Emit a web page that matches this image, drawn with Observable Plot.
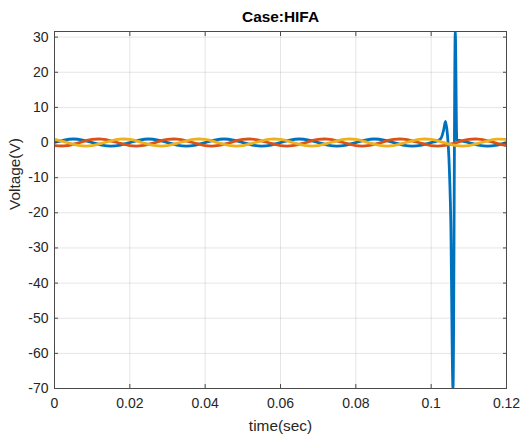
<!DOCTYPE html>
<html>
<head>
<meta charset="utf-8">
<script src="https://cdn.jsdelivr.net/npm/d3@7"></script>
<script src="https://cdn.jsdelivr.net/npm/@observablehq/plot@0.6"></script>
<style>
  body { margin: 0; background: #ffffff; }
  #chart svg { display: block; }
</style>
</head>
<body>
<div id="chart"></div>
<script>
// Sample times (s) for the steady three-phase signals
const time = [0, 0.0025, 0.005, 0.0075, 0.01, 0.0125, 0.015, 0.0175,
  0.02, 0.0225, 0.025, 0.0275, 0.03, 0.0325, 0.035, 0.0375,
  0.04, 0.0425, 0.045, 0.0475, 0.05, 0.0525, 0.055, 0.0575,
  0.06, 0.0625, 0.065, 0.0675, 0.07, 0.0725, 0.075, 0.0775,
  0.08, 0.0825, 0.085, 0.0875, 0.09, 0.0925, 0.095, 0.0975,
  0.1, 0.1025, 0.105, 0.1075, 0.11, 0.1125, 0.115, 0.1175, 0.12];

// Phase B (orange) voltage, V
const phaseB = [-0.87, -0.97, -0.5, 0.26, 0.87, 0.97, 0.5, -0.26,
  -0.87, -0.97, -0.5, 0.26, 0.87, 0.97, 0.5, -0.26,
  -0.87, -0.97, -0.5, 0.26, 0.87, 0.97, 0.5, -0.26,
  -0.87, -0.97, -0.5, 0.26, 0.87, 0.97, 0.5, -0.26,
  -0.87, -0.97, -0.5, 0.26, 0.87, 0.97, 0.5, -0.26,
  -0.87, -0.97, -0.5, 0.26, 0.87, 0.97, 0.5, -0.26, -0.87];

// Phase C (yellow) voltage, V
const phaseC = [0.87, 0.26, -0.5, -0.97, -0.87, -0.26, 0.5, 0.97,
  0.87, 0.26, -0.5, -0.97, -0.87, -0.26, 0.5, 0.97,
  0.87, 0.26, -0.5, -0.97, -0.87, -0.26, 0.5, 0.97,
  0.87, 0.26, -0.5, -0.97, -0.87, -0.26, 0.5, 0.97,
  0.87, 0.26, -0.5, -0.97, -0.87, -0.26, 0.5, 0.97,
  0.87, 0.26, -0.5, -0.97, -0.87, -0.26, 0.5, 0.97, 0.87];

// Phase A (blue, faulted) sample times (s) and voltage (V)
const timeA = [0, 0.0025, 0.005, 0.0075, 0.01, 0.0125, 0.015, 0.0175,
  0.02, 0.0225, 0.025, 0.0275, 0.03, 0.0325, 0.035, 0.0375,
  0.04, 0.0425, 0.045, 0.0475, 0.05, 0.0525, 0.055, 0.0575,
  0.06, 0.0625, 0.065, 0.0675, 0.07, 0.0725, 0.075, 0.0775,
  0.08, 0.0825, 0.085, 0.0875, 0.09, 0.0925, 0.095, 0.0975,
  0.1, 0.1015, 0.1026, 0.1033, 0.1038, 0.1043, 0.1047, 0.1052, 0.1058,
  0.1064, 0.1068, 0.1075, 0.11, 0.1125, 0.115, 0.1175, 0.12];
const phaseA = [0, 0.71, 1, 0.71, 0, -0.71, -1, -0.71,
  0, 0.71, 1, 0.71, 0, -0.71, -1, -0.71,
  0, 0.71, 1, 0.71, 0, -0.71, -1, -0.71,
  0, 0.71, 1, 0.71, 0, -0.71, -1, -0.71,
  0, 0.71, 1, 0.71, 0, -0.71, -1, -0.71,
  0, 0.45, 1.2, 3.5, 6.0, 2.5, -4, -22, -70,
  31.6, 0.8, 0.6, 0, -0.71, -1, -0.71, 0];

const xTicks = [0, 0.02, 0.04, 0.06, 0.08, 0.1, 0.12];
const yTicks = [-70, -60, -50, -40, -30, -20, -10, 0, 10, 20, 30];

const title = "Case:HIFA";
const xLabel = "time(sec)";
const yLabel = "Voltage(V)";

const rowsA = timeA.map((t, i) => ({t, v: phaseA[i]}));
const rowsB = time.map((t, i) => ({t, v: phaseB[i]}));
const rowsC = time.map((t, i) => ({t, v: phaseC[i]}));

const fmtX = d => String(+d.toFixed(2));
const fmtY = d => String(d);
const axisColor = "#4a4a4a";
const textColor = "#262626";

const chart = Plot.plot({
  width: 520,
  height: 438,
  marginLeft: 54,
  marginRight: 14,
  marginTop: 31,
  marginBottom: 50,
  style: {fontFamily: "'Liberation Sans', Arial, Helvetica, sans-serif", fontSize: "14px", background: "#ffffff", color: textColor},
  x: {domain: [0, 0.12], axis: null},
  y: {domain: [-70, 31.6], axis: null},
  marks: [
    Plot.gridX(xTicks, {stroke: "#000", strokeOpacity: 0.1}),
    Plot.gridY(yTicks, {stroke: "#000", strokeOpacity: 0.1}),
    Plot.line(rowsA, {x: "t", y: "v", stroke: "#0072BD", strokeWidth: 2.8, curve: "monotone-x", clip: true}),
    Plot.line(rowsB, {x: "t", y: "v", stroke: "#D95319", strokeWidth: 2.8, curve: "natural", clip: true}),
    Plot.line(rowsC, {x: "t", y: "v", stroke: "#EDB120", strokeWidth: 2.8, curve: "natural", clip: true}),
    Plot.axisX(xTicks, {anchor: "bottom", tickSize: 0, tickPadding: 10, tickFormat: fmtX, label: null, fill: textColor, fontSize: 14}),
    Plot.axisY(yTicks, {anchor: "left", tickSize: 0, tickPadding: 6, tickFormat: fmtY, label: null, fill: textColor, fontSize: 14}),
    Plot.axisX(xTicks, {anchor: "bottom", tickSize: -4, tickFormat: () => "", label: null, stroke: axisColor}),
    Plot.axisX(xTicks, {anchor: "top", tickSize: -4, tickFormat: () => "", label: null, stroke: axisColor}),
    Plot.axisY(yTicks, {anchor: "left", tickSize: -4, tickFormat: () => "", label: null, stroke: axisColor}),
    Plot.axisY(yTicks, {anchor: "right", tickSize: -4, tickFormat: () => "", label: null, stroke: axisColor}),
    Plot.frame({stroke: axisColor, strokeWidth: 1}),
    Plot.text([title], {text: d => d, frameAnchor: "top", dy: -14, lineAnchor: "middle", fontWeight: "bold", fontSize: 15.4, fill: "#000"}),
    Plot.text([xLabel], {text: d => d, frameAnchor: "bottom", dy: 38, lineAnchor: "middle", fontSize: 15.4, fill: textColor}),
    Plot.text([yLabel], {text: d => d, frameAnchor: "left", dx: -39, rotate: -90, fontSize: 15.4, fill: textColor})
  ]
});
document.getElementById("chart").appendChild(chart);
</script>
</body>
</html>
